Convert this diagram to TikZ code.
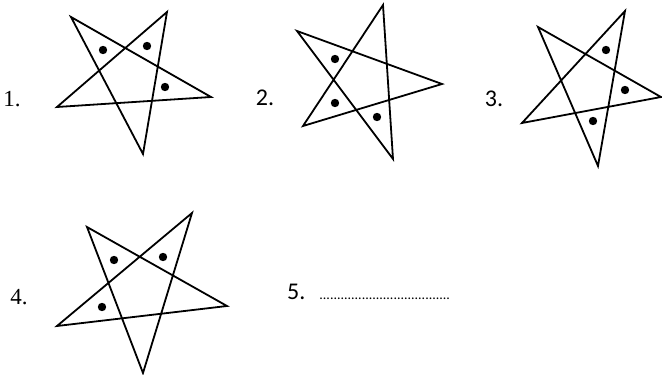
\documentclass[tikz,border=0pt]{standalone}
\usepackage{fontspec}
\newfontfamily\serffont{Liberation Serif}
\newfontfamily\calfont{Carlito}
\begin{document}
\begin{tikzpicture}[x=1pt,y=-1pt,
  starline/.style={line width=1.8pt,line join=miter},
  spot/.style={fill=black,draw=none},
  numlabel/.style={font=\serffont\fontsize{23}{24}\selectfont,inner sep=0pt},
  numlabelsans/.style={font=\calfont\fontsize{24}{25}\selectfont,inner sep=0pt}]
\useasboundingbox (0,0) rectangle (662,375);
% star 1
\coordinate (a1) at (71,17); \coordinate (b1) at (167,12); \coordinate (c1) at (211,97);
\coordinate (d1) at (143,154); \coordinate (e1) at (57,107);
\draw[starline] (a1) -- (d1) -- (b1) -- (e1) -- (c1) -- cycle;
\fill[spot] (103,50) circle (4.2); \fill[spot] (147,46) circle (4.2); \fill[spot] (165,87) circle (4.2);
\node[numlabel] (l1) at (12,99) {1.};
% star 2
\coordinate (a2) at (297,31); \coordinate (b2) at (383,5); \coordinate (c2) at (442,84);
\coordinate (d2) at (393,159); \coordinate (e2) at (303,126);
\draw[starline] (a2) -- (d2) -- (b2) -- (e2) -- (c2) -- cycle;
\fill[spot] (335,59) circle (4.2); \fill[spot] (335,103) circle (4.2); \fill[spot] (377,117) circle (4.2);
\node[numlabelsans] (l2) at (265,98) {2.};
% star 3
\coordinate (a3) at (538,27); \coordinate (b3) at (625,11); \coordinate (c3) at (661,97);
\coordinate (d3) at (598,166); \coordinate (e3) at (522,123);
\draw[starline] (a3) -- (d3) -- (b3) -- (e3) -- (c3) -- cycle;
\fill[spot] (606,50) circle (4.2); \fill[spot] (625,90) circle (4.2); \fill[spot] (593,121) circle (4.2);
\node[numlabelsans] (l3) at (494,99) {3.};
% star 4
\coordinate (a4) at (87,227); \coordinate (b4) at (192,213); \coordinate (c4) at (227,306);
\coordinate (d4) at (143,373); \coordinate (e4) at (57,326);
\draw[starline] (a4) -- (d4) -- (b4) -- (e4) -- (c4) -- cycle;
\fill[spot] (114,260) circle (4.2); \fill[spot] (163,257) circle (4.2); \fill[spot] (102,307) circle (4.2);
\node[numlabel] (l4) at (19,297) {4.};
% item 5
\node[numlabelsans,anchor=base west] (l5) at (287,299) {5.\hspace{14pt}\fontsize{14}{14}\selectfont.....................................};
\end{tikzpicture}
\end{document}
